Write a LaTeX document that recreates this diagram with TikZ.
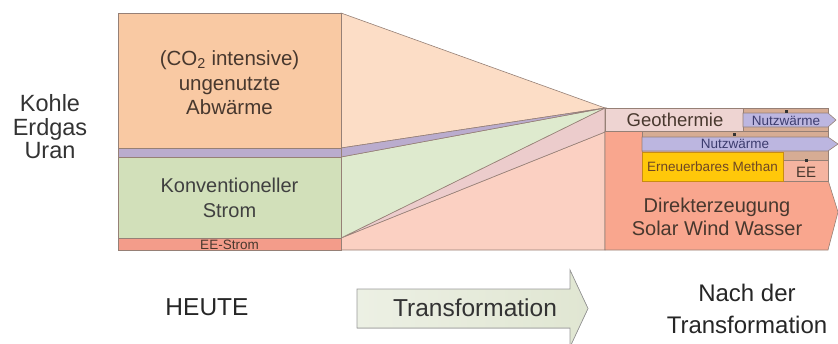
\documentclass[tikz,border=0pt]{standalone}
\usepackage{fontspec}
\setmainfont{Liberation Sans}
\usepackage{xcolor}
\usepackage{tikz}
\usetikzlibrary{positioning, calc}
\definecolor{skPeach}{RGB}{249, 201, 163}
\definecolor{skPeachLight}{RGB}{252, 221, 198}
\definecolor{skGreen}{RGB}{210, 224, 186}
\definecolor{skGreenLight}{RGB}{222, 234, 206}
\definecolor{skLilac}{RGB}{186, 172, 206}
\definecolor{skSalmon}{RGB}{243, 156, 138}
\definecolor{skSalmonLight}{RGB}{251, 208, 194}
\definecolor{skMauve}{RGB}{236, 204, 204}
\definecolor{skDirect}{RGB}{249, 166, 142}
\definecolor{skGeo}{RGB}{238, 212, 210}
\definecolor{skUse}{RGB}{188, 182, 224}
\definecolor{skTan}{RGB}{214, 172, 148}
\definecolor{skGold}{RGB}{255, 200, 10}
\definecolor{skGoldEdge}{RGB}{200, 140, 20}
\definecolor{skEE}{RGB}{245, 180, 160}
\definecolor{skEdge}{RGB}{150, 128, 118}
\definecolor{skText}{RGB}{72, 56, 46}
\definecolor{skUseText}{RGB}{60, 60, 110}
\definecolor{skArrow}{RGB}{224, 230, 210}
\tikzset{
    base/.style={
        font=\fontsize{22}{24}\selectfont,
        align=center,
        inner sep=0pt
    },
    flowtext/.style={
        base,
        text=skText
    },
    smalltext/.style={
        base,
        font=\fontsize{13.5}{15}\selectfont
    },
    band/.style={
        draw=skEdge,
        line width=0.6pt
    },
    joint/.style={
        rectangle,
        fill=black!80,
        minimum width=3pt,
        minimum height=3pt,
        inner sep=0pt,
        outer sep=0pt
    }
}

\begin{document}
\begin{tikzpicture}[x=1pt, y=-1pt]
    \useasboundingbox (0,0) rectangle (838,343);

    % Funnel towards the right side
    \filldraw[band, fill=skPeachLight] (341,13) -- (605,108) -- (341,148) -- cycle;
    \filldraw[band, fill=skSalmonLight] (341,238) -- (605,132) -- (605,250) -- (341,250) -- cycle;
    \filldraw[band, fill=skMauve] (341,238) -- (605,108) -- (605,132) -- cycle;
    \filldraw[band, fill=skGreenLight] (341,157) -- (605,108) -- (341,238) -- cycle;
    \filldraw[band, fill=skLilac] (341,148) -- (605,108) -- (341,157) -- cycle;

    % Heute
    \filldraw[band, fill=skPeach] (118,13) rectangle (341,148);
    \filldraw[band, fill=skLilac] (118,148) rectangle (341,157);
    \filldraw[band, fill=skGreen] (118,157) rectangle (341,238);
    \filldraw[band, fill=skSalmon] (118,238) rectangle (341,250);

    % Nach der Transformation
    \filldraw[band, fill=skDirect] (605,131) -- (828,131) -- (828,180) -- (838,212)
        -- (828,250) -- (605,250) -- cycle;
    \filldraw[band, fill=skGeo] (605,108) rectangle (743,131);
    \filldraw[band, fill=skTan] (743,108) rectangle (828,131);
    \filldraw[band, fill=skUse] (743,113) -- (828,113) -- (836,120) -- (828,127)
        -- (743,127) -- cycle;
    \filldraw[band, fill=skTan] (642,131) rectangle (828,137);
    \filldraw[band, fill=skTan] (642,150) rectangle (828,160);
    \filldraw[band, fill=skUse] (642,137) -- (828,137) -- (838,144) -- (828,151)
        -- (642,151) -- cycle;
    \filldraw[band, fill=skEE] (783,160) rectangle (828,181);
    \filldraw[draw=skGoldEdge, line width=0.8pt, fill=skGold] (642,152) rectangle (783,181);
    \node[joint] (j1) at (786,111) {};
    \node[joint] (j2) at (734,134) {};
    \node[joint] (j3) at (806,160) {};

    % Labels
    \node[base, text=black!80, font=\fontsize{23.5}{23.5}\selectfont] (fossil) at (50,127)
        {Kohle\\Erdgas\\Uran};
    \node[flowtext, font=\fontsize{20.5}{24.5}\selectfont] (waste) at (229.5,83)
        {(CO\textsubscript{2} intensive)\\ungenutzte\\Abwärme};
    \node[flowtext, font=\fontsize{20}{25}\selectfont, text=black!75] (conv) at (229.5,198)
        {Konventioneller\\Strom};
    \node[smalltext, text=skText] (eestrom) at (229.5,244.5) {EE-Strom};
    \node[flowtext, font=\fontsize{18.5}{20}\selectfont] (geo) at (675,120) {Geothermie};
    \node[smalltext, text=skUseText] (use1) at (786,120.5) {Nutzwärme};
    \node[smalltext, text=skUseText] (use2) at (735,144) {Nutzwärme};
    \node[smalltext, text=skText!80!orange] (methan) at (712.5,167) {Erneuerbares Methan};
    \node[flowtext, font=\fontsize{15}{16}\selectfont] (ee) at (806,172) {EE};
    \node[flowtext, font=\fontsize{20}{23}\selectfont] (direct) at (717,216.5)
        {Direkterzeugung\\Solar Wind Wasser};

    % Bottom row
    \node[base, text=black!85, font=\fontsize{24.5}{26}\selectfont] (today) at (207,307) {HEUTE};
    \filldraw[draw=black!40, line width=0.7pt, left color=skArrow!60!white, right color=skArrow]
        (357,289) -- (570,289) -- (570,270) -- (588,308.5) -- (570,347) -- (570,328)
        -- (357,328) -- cycle;
    \node[base, text=black!80, font=\fontsize{24.5}{26}\selectfont] (trafo) at (475,308)
        {Transformation};
    \node[base, text=black!85, font=\fontsize{24}{32}\selectfont] (after) at (747,309)
        {Nach der\\Transformation};
\end{tikzpicture}
\end{document}
